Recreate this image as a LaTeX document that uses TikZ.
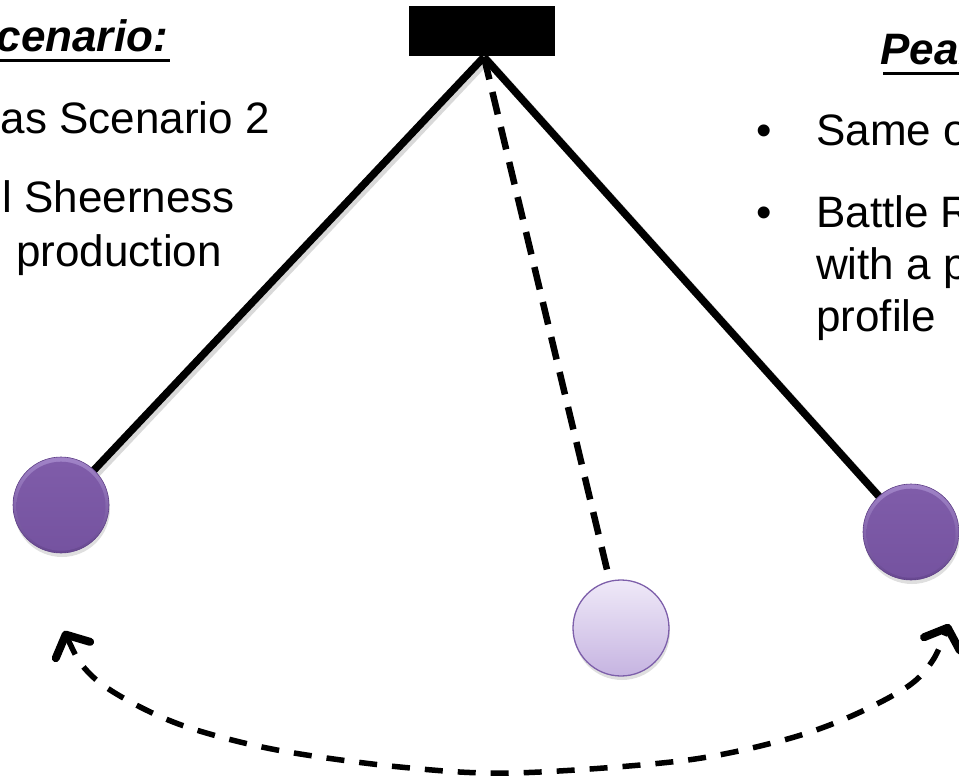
\documentclass[tikz,border=0pt]{standalone}
\usepackage{fontspec}
\setmainfont{Liberation Sans}
\usetikzlibrary{arrows.meta,shadows}
\definecolor{balltop}{HTML}{A184C8}
\definecolor{ballbot}{HTML}{684891}
\definecolor{innertop}{HTML}{7F5CA9}
\definecolor{innerbot}{HTML}{7553A0}
\definecolor{balledge}{HTML}{5E3F86}
\definecolor{lighttop}{HTML}{EFE9F8}
\definecolor{lightbot}{HTML}{C6B4E1}
\definecolor{lightedge}{HTML}{7D5FAA}
\begin{document}
\begin{tikzpicture}[x=1pt,y=-1pt,
  txt/.style={inner sep=0pt, font=\fontsize{44}{53}\selectfont},
  ttl/.style={inner sep=0pt, font=\fontsize{44}{53}\selectfont\bfseries\itshape},
  uline/.style={line width=3pt},
  rod/.style={line width=7.5pt},
  rodshadow/.style={line width=8pt, black, opacity=0.15},
  darkball/.style={circle, minimum size=96pt, inner sep=0pt, draw=balledge, line width=0.6pt,
    top color=balltop, bottom color=ballbot,
    drop shadow={shadow xshift=1pt, shadow yshift=-4pt, opacity=0.25}},
  ballface/.style={top color=innertop, bottom color=innerbot},
  lightball/.style={circle, minimum size=96pt, inner sep=0pt, draw=lightedge, line width=1.3pt,
    top color=lighttop, bottom color=lightbot,
    drop shadow={shadow xshift=1pt, shadow yshift=-4pt, opacity=0.25}},
  dashedrod/.style={line width=6.5pt, dash pattern=on 23pt off 13pt},
  swing/.style={line width=5.5pt, dash pattern=on 18pt off 15pt, <->,
    >={Straight Barb[length=17pt,width=38pt,line width=8pt,round]}},
]
\useasboundingbox (0,0) rectangle (959,776);
\clip (0,0) rectangle (959,776);

% texts left
\node[ttl, anchor=base east] (ltitle) at (168,52) {Scenario:};
\draw[uline] ([yshift=-9pt]ltitle.base west) -- ([yshift=-9pt,xshift=2pt]ltitle.base east);
\node[txt, anchor=base east] (l1) at (270,133) {as Scenario 2};
\node[txt, anchor=base east] (l2) at (235,212) {l Sheerness};
\node[txt, anchor=base east] (l3) at (222,266) {production};

% texts right
\node[ttl, anchor=base west] (rtitle) at (880,65) {Peak};
\draw[uline] ([yshift=-9pt,xshift=3pt]rtitle.base west) -- ([yshift=-9pt]rtitle.base east);
\node[txt, anchor=base west] (b1) at (756,145) {•};
\node[txt, anchor=base west] (r1) at (816,145) {Same o};
\node[txt, anchor=base west] (b2) at (756,227) {•};
\node[txt, anchor=base west] (r2) at (816,227) {Battle R};
\node[txt, anchor=base west] (r3) at (816,279) {with a p};
\node[txt, anchor=base west] (r4) at (816,331) {profile};

% support
\node[fill=black, minimum width=146pt, minimum height=50pt, inner sep=0pt, anchor=north] (bar) at (482,6) {};
\coordinate (pivot) at (484,57);

% balls (positions)
\coordinate (lc) at (61,505);
\coordinate (rc) at (911,532);
\coordinate (cc) at (621,628);

% rod shadows
\draw[rodshadow] ([xshift=3pt,yshift=-3pt]pivot) -- ([xshift=3pt,yshift=-3pt]lc);
\draw[rodshadow] ([xshift=3pt,yshift=-3pt]pivot) -- ([xshift=3pt,yshift=-3pt]rc);

% rods
\draw[rod] (pivot) -- (lc);
\draw[rod] (pivot) -- (rc);

\node[darkball] (lball) at (lc) {};
\shade[ballface] ([yshift=-1.2pt]lball.center) circle[radius=44.5pt];
\node[darkball] (rball) at (rc) {};
\shade[ballface] ([yshift=-1.2pt]rball.center) circle[radius=44.5pt];
\node[lightball] (cball) at (cc) {};

\draw[dashedrod] (pivot) -- (cball);

% swing arc
\coordinate (arcL) at (64,631);
\coordinate (arcR) at (949,624);
\draw[swing] plot[smooth, tension=0.55] coordinates {(arcL) (88,672) (127,700) (187,727) (277,750) (400,767) (513,773) (680,761) (780,741) (847,718) (907,687) (933,660) (arcR)};
\end{tikzpicture}
\end{document}
